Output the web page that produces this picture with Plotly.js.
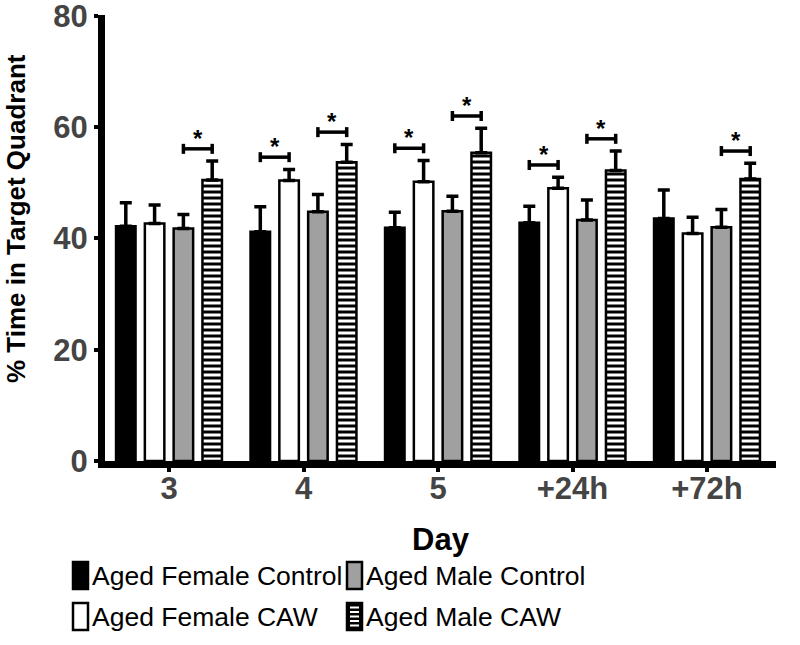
<!DOCTYPE html>
<html>
<head>
<meta charset="utf-8">
<script src="https://cdn.plot.ly/plotly-3.0.1.min.js"></script>
<style>
  html, body { margin: 0; padding: 0; background: #fff; }
  #chart { width: 800px; height: 645px; }
</style>
</head>
<body>
<div id="chart"></div>
<script>
// categories (days)
let days = ['3', '4', '5', '+24h', '+72h'];

// group means
let femaleControl = [42.2, 41.2, 41.9, 42.8, 43.6];
let femaleCAW = [42.7, 50.4, 50.2, 49.0, 40.9];
let maleControl = [41.8, 44.8, 44.9, 43.3, 42.0];
let maleCAW = [50.5, 53.7, 55.4, 52.2, 50.7];

// SEM (upper whisker only)
let femaleControlErr = [4.2, 4.5, 2.8, 3.0, 5.1];
let femaleCAWErr = [3.3, 2.0, 3.8, 2.0, 2.9];
let maleControlErr = [2.5, 3.1, 2.7, 3.6, 3.2];
let maleCAWErr = [3.4, 3.2, 4.4, 3.5, 2.8];

// significance brackets: [day index, bar A, bar B] (bar order = trace order)
let brackets = [[0, 2, 3], [1, 0, 1], [1, 2, 3], [2, 0, 1], [2, 2, 3], [3, 0, 1], [3, 2, 3], [4, 2, 3]];

let seriesNames = ['Aged Female Control', 'Aged Female CAW', 'Aged Male Control', 'Aged Male CAW'];

// layout numbers
let L = 105, R = 24, T = 15, B = 184;
let W = 800 - L - R, H = 645 - T - B;
let bargap = 0.1435, bargroupgap = 0.323;
let slot = (1 - bargap) / 4;

let xIdx = days.map(function(d, i) { return i; });
let zeros = days.map(function() { return 0; });

function barTrace(name, y, err, color, extra) {
    let t = {
        type: 'bar',
        name: name,
        x: xIdx,
        y: y,
        marker: {color: color, line: {color: 'black', width: 2.5}},
        error_y: {
            type: 'data', symmetric: false, array: err, arrayminus: zeros,
            color: 'black', thickness: 3.5, width: 6
        },
        hoverinfo: 'y'
    };
    if (extra) t.marker.pattern = extra;
    return t;
}

let data = [
    barTrace(seriesNames[0], femaleControl, femaleControlErr, 'black'),
    barTrace(seriesNames[1], femaleCAW, femaleCAWErr, 'white'),
    barTrace(seriesNames[2], maleControl, maleControlErr, '#a0a0a0'),
    barTrace(seriesNames[3], maleCAW, maleCAWErr, 'white',
        {shape: '-', fgcolor: 'black', bgcolor: 'white', size: 6, solidity: 0.5, fillmode: 'replace'})
];

let means = [femaleControl, femaleCAW, maleControl, maleCAW];
let errs = [femaleControlErr, femaleCAWErr, maleControlErr, maleCAWErr];

function barCenter(day, k) {
    return day + (k - 1.5) * slot;
}

let shapes = [];
let annotations = [];

// brackets + stars
brackets.forEach(function(b) {
    let d = b[0], a = b[1], c = b[2];
    let top = Math.max(means[a][d] + errs[a][d], means[c][d] + errs[c][d]) + 2.2;
    let x0 = barCenter(d, a), x1 = barCenter(d, c);
    let tick = 0.9;
    let ln = {color: 'black', width: 3.5};
    shapes.push({type: 'line', xref: 'x', yref: 'y', x0: x0, x1: x1, y0: top, y1: top, line: ln});
    shapes.push({type: 'line', xref: 'x', yref: 'y', x0: x0, x1: x0, y0: top - tick, y1: top + tick, line: ln});
    shapes.push({type: 'line', xref: 'x', yref: 'y', x0: x1, x1: x1, y0: top - tick, y1: top + tick, line: ln});
    annotations.push({
        xref: 'x', yref: 'y', x: (x0 + x1) / 2, y: top, text: '*', showarrow: false,
        yanchor: 'bottom', yshift: -5,
        font: {family: 'Liberation Sans, Arial', size: 24, color: 'black', weight: 700}
    });
});

// legend drawn by hand (tall swatches like the original)
function px(x) { return (x - L) / W; }
function py(y) { return (645 - B - y) / H; }

let legendPos = [[73, 562], [73, 603], [347, 562], [347, 603]];
let legendFill = ['black', 'white', '#a0a0a0', 'black'];
legendPos.forEach(function(p, k) {
    shapes.push({
        type: 'rect', xref: 'paper', yref: 'paper',
        x0: px(p[0]), x1: px(p[0] + 15), y0: py(p[1]), y1: py(p[1] + 27),
        fillcolor: legendFill[k], line: {color: 'black', width: 2.5}
    });
    if (k === 3) {
        for (let s = 0; s < 5; s++) {
            let yy = p[1] + 4.5 + s * 4.5;
            shapes.push({
                type: 'line', xref: 'paper', yref: 'paper',
                x0: px(p[0] + 3), x1: px(p[0] + 12), y0: py(yy), y1: py(yy),
                line: {color: 'white', width: 2}
            });
        }
    }
    annotations.push({
        xref: 'paper', yref: 'paper', x: px(p[0] + 17), y: py(p[1] + 14),
        xanchor: 'left', yanchor: 'middle', showarrow: false,
        text: seriesNames[k],
        font: {family: 'Liberation Sans, Arial', size: 26.5, color: 'black'}
    });
});

// y axis title as an annotation so it can sit where the original has it
annotations.push({
    xref: 'paper', yref: 'paper', x: px(16), y: py(219),
    xanchor: 'center', yanchor: 'middle', textangle: -90, showarrow: false,
    text: '% Time in Target Quadrant',
    font: {family: 'Liberation Sans, Arial', size: 26, color: 'black', weight: 700}
});

let tickFont = {family: 'Liberation Sans, Arial', size: 31, color: '#444', weight: 700};

let layout = {
    width: 800,
    height: 645,
    margin: {l: L, r: R, t: T, b: B},
    paper_bgcolor: 'white',
    plot_bgcolor: 'white',
    barmode: 'group',
    bargap: bargap,
    bargroupgap: bargroupgap,
    showlegend: false,
    xaxis: {
        range: [-0.4758, 4.513],
        tickvals: xIdx,
        ticktext: days,
        showgrid: false,
        zeroline: false,
        showline: true,
        linecolor: 'black',
        linewidth: 7,
        ticks: 'outside',
        ticklen: 4,
        tickwidth: 4,
        tickcolor: 'black',
        ticklabelstandoff: -10,
        tickfont: tickFont,
        title: {
            text: 'Day',
            standoff: 26,
            font: {family: 'Liberation Sans, Arial', size: 31, color: 'black', weight: 700}
        }
    },
    yaxis: {
        range: [0, 80.15],
        tickvals: [0, 20, 40, 60, 80],
        showgrid: false,
        zeroline: false,
        showline: true,
        linecolor: 'black',
        linewidth: 7,
        ticks: 'outside',
        ticklen: 4,
        tickwidth: 4,
        tickcolor: 'black',
        ticklabeloverflow: 'allow',
        tickfont: tickFont
    },
    shapes: shapes,
    annotations: annotations
};

Plotly.newPlot('chart', data, layout, {displayModeBar: false, staticPlot: true});
</script>
</body>
</html>
